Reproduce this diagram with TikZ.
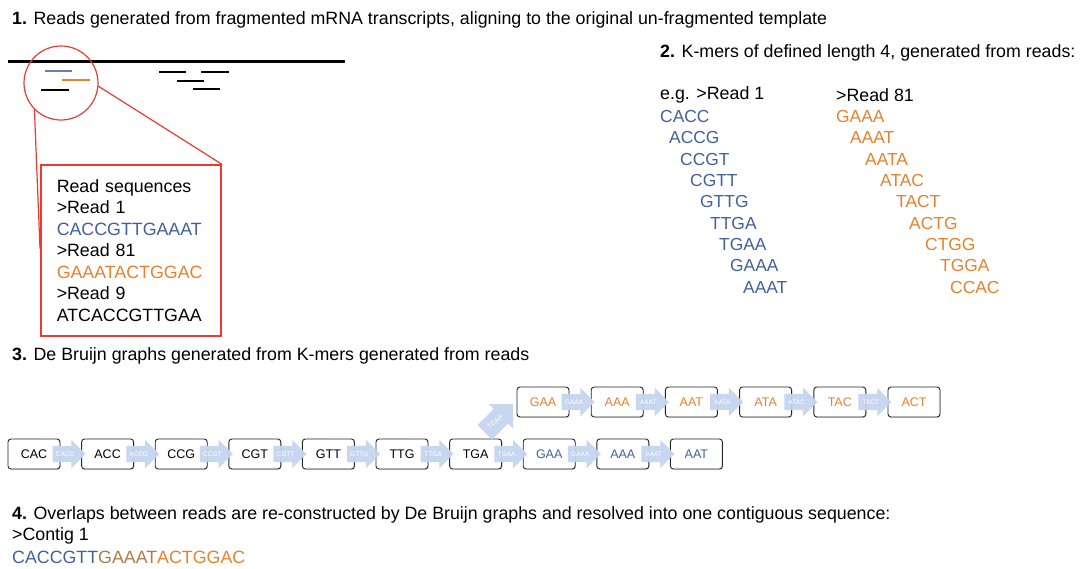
\documentclass[tikz,border=0pt]{standalone}
\usepackage{fontspec}
\setmainfont{Liberation Sans}
\usetikzlibrary{positioning}
\usetikzlibrary{calc}
\usetikzlibrary{shapes.arrows}
\usetikzlibrary{shadows}
\definecolor{readblue}{RGB}{66,96,156}
\definecolor{readorange}{RGB}{234,128,44}
\definecolor{mixbrown}{RGB}{172,124,72}
\definecolor{zoomred}{RGB}{236,58,48}
\definecolor{arrowblue}{RGB}{196,213,239}

\begin{document}
\begin{tikzpicture}[x=1pt,y=-1pt,
        txt/.style={anchor=west,inner sep=0pt,font=\fontsize{17.8}{20}\selectfont},
        kmerA/.style={txt,text=readblue,font=\fontsize{17.4}{20}\selectfont},
        kmerB/.style={txt,text=readorange,font=\fontsize{17.4}{20}\selectfont},
        readline/.style={line width=2.6pt},
        graphbox/.style={draw=black!85,line width=0.9pt,rounded corners=3pt,fill=white,
            minimum width=52pt,minimum height=30pt,inner sep=0pt,
            font=\fontsize{12.5}{14}\selectfont,
            drop shadow={opacity=0.3,shadow xshift=0.8pt,shadow yshift=-0.8pt}},
        kedge/.style={single arrow,fill=arrowblue,fill opacity=0.95,text opacity=1,text=white,
            font=\fontsize{6.5}{7}\selectfont,text height=5pt,text depth=1pt,
            inner xsep=0.5pt,inner ysep=5pt,single arrow head extend=6pt,
            minimum height=33pt,anchor=west}]
    \useasboundingbox (0,0) rectangle (1082,568);

    % 1. reads on the template
    \node[txt] (t1) at (12,20) {\textbf{1.} Reads generated from fragmented mRNA transcripts, aligning to the original un-fragmented template};
    \draw[line width=3pt] (8,61) -- (345,61);
    \draw[readline,readblue!80] (45,71) -- (72,71);
    \draw[readline,readorange] (62,80) -- (90,80);
    \draw[readline] (41,90) -- (69,90);
    \draw[readline] (159,72) -- (186,72);
    \draw[readline] (201,72) -- (229,72);
    \draw[readline] (177,81) -- (204,81);
    \draw[readline] (193,89) -- (220,89);
    \node[circle,draw=zoomred,line width=1.2pt,minimum size=74pt,inner sep=0pt] (zoom) at (61,83) {};
    \node[draw=zoomred,line width=1.5pt,fill=white,anchor=north west,align=left,
        text width=148pt,inner xsep=16pt,minimum height=171pt,
        font=\fontsize{17.8}{21.5}\selectfont] (seqs) at (40,164)
        {Read sequences\\>Read 1\\{\color{readblue}CACCGTTGAAAT}\\>Read 81\\{\color{readorange}GAAATACTGGAC}\\>Read 9\\ATCACCGTTGAA};
    \draw[zoomred,line width=1.2pt] (zoom.south west) -- ($(seqs.north west)!0.49!(seqs.south west)$);
    \draw[zoomred,line width=1.2pt] (zoom.-5) -- (seqs.north east);

    % 2. k-mers
    \node[txt] (t2) at (660,53) {\textbf{2.} K-mers of defined length 4, generated from reads:};
    \node[txt] (r1) at (660,95) {e.g. >Read 1};
    \node[txt] (r81) at (836,95) {>Read 81};
    \node[kmerA] (a1) at (660,117) {CACC};
    \node[kmerA] (a2) at (669,138) {ACCG};
    \node[kmerA] (a3) at (680,160) {CCGT};
    \node[kmerA] (a4) at (690,181) {CGTT};
    \node[kmerA] (a5) at (700,202) {GTTG};
    \node[kmerA] (a6) at (710,224) {TTGA};
    \node[kmerA] (a7) at (719,245) {TGAA};
    \node[kmerA] (a8) at (730,266) {GAAA};
    \node[kmerA] (a9) at (743,288) {AAAT};
    \node[kmerB] (b1) at (836,117) {GAAA};
    \node[kmerB] (b2) at (850,138) {AAAT};
    \node[kmerB] (b3) at (865,160) {AATA};
    \node[kmerB] (b4) at (880,181) {ATAC};
    \node[kmerB] (b5) at (896,202) {TACT};
    \node[kmerB] (b6) at (909,224) {ACTG};
    \node[kmerB] (b7) at (925,245) {CTGG};
    \node[kmerB] (b8) at (940,266) {TGGA};
    \node[kmerB] (b9) at (950,288) {CCAC};

    % 3. de Bruijn graph
    \node[txt] (t3) at (12,356) {\textbf{3.} De Bruijn graphs generated from K-mers generated from reads};
    \node[graphbox] (cac) at (34,454) {CAC};
    \node[graphbox,right=20.7pt of cac] (acc) {ACC};
    \node[graphbox,right=20.7pt of acc] (ccg) {CCG};
    \node[graphbox,right=20.7pt of ccg] (cgt) {CGT};
    \node[graphbox,right=20.7pt of cgt] (gtt) {GTT};
    \node[graphbox,right=20.7pt of gtt] (ttg) {TTG};
    \node[graphbox,right=20.7pt of ttg] (tga) {TGA};
    \node[graphbox,text=readblue,right=20.7pt of tga] (gaa) {GAA};
    \node[graphbox,text=readblue,right=20.7pt of gaa] (aaa) {AAA};
    \node[graphbox,text=readblue,right=20.7pt of aaa] (aat) {AAT};
    \node[graphbox,text=readorange] (gaa2) at (543,402) {GAA};
    \node[graphbox,text=readorange,right=21.3pt of gaa2] (aaa2) {AAA};
    \node[graphbox,text=readorange,right=21.3pt of aaa2] (aat2) {AAT};
    \node[graphbox,text=readorange,right=21.3pt of aat2] (ata2) {ATA};
    \node[graphbox,text=readorange,right=21.3pt of ata2] (tac2) {TAC};
    \node[graphbox,text=readorange,right=21.3pt of tac2] (act2) {ACT};
    \foreach \a/\k in {cac/CACC,acc/ACCG,ccg/CCGT,cgt/CGTT,gtt/GTTG,ttg/TTGA,tga/TGAA,gaa/GAAA,aaa/AAAT,
            gaa2/GAAA,aaa2/AAAT,aat2/AATA,ata2/ATAC,tac2/TACT}
        \node[kedge] (e-\a) at ([xshift=-8pt]\a.east) {\k};
    \node[kedge,rotate=45,minimum height=40pt,inner ysep=7pt,single arrow head extend=7pt] (e-up) at ([xshift=9pt,yshift=6pt]tga.north) {TGAA};

    % 4. contig
    \node[txt] (t4) at (12,515) {\textbf{4.} Overlaps between reads are re-constructed by De Bruijn graphs and resolved into one contiguous sequence:};
    \node[txt] (c1) at (12,536) {>Contig 1};
    \node[txt] (c2) at (12,557) {{\color{readblue}CACCGTT}{\color{mixbrown}GAAAT}{\color{readorange}ACTGGAC}};
\end{tikzpicture}
\end{document}
